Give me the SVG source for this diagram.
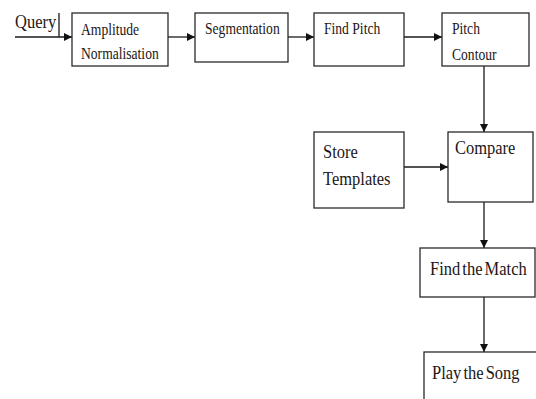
<svg xmlns="http://www.w3.org/2000/svg" width="536" height="399" viewBox="0 0 536 399">
<style>
.box{fill:#fff;stroke:#2a2a2a;stroke-width:1.3}
.ln{fill:none;stroke:#1a1a1a;stroke-width:1.3}
text{font-family:"Liberation Serif","Times New Roman",serif;fill:#221616}
.s{font-size:13.6px}
.m{font-size:16.5px;word-spacing:-2px}
</style>
<defs>
<marker id="ah" viewBox="0 0 8 8" refX="8" refY="4" markerWidth="8" markerHeight="8" markerUnits="userSpaceOnUse" orient="auto">
<path d="M0,0 L8,4 L0,8 Z" fill="#111"/>
</marker>
</defs>
<rect width="536" height="399" fill="#fff"/>
<g id="connectors">
<path class="ln" d="M15,37 H72" marker-end="url(#ah)"/>
<path class="ln" d="M59,13 V37"/>
<path class="ln" d="M168,37 H195" marker-end="url(#ah)"/>
<path class="ln" d="M288,37 H314" marker-end="url(#ah)"/>
<path class="ln" d="M404,37 H442" marker-end="url(#ah)"/>
<path class="ln" d="M484,66 V132" marker-end="url(#ah)"/>
<path class="ln" d="M404,167 H448" marker-end="url(#ah)"/>
<path class="ln" d="M484,202 V248" marker-end="url(#ah)"/>
<path class="ln" d="M484,297 V352" marker-end="url(#ah)"/>
</g>
<g id="query">
<text class="m" transform="translate(15,28) scale(1,1.18)">Query</text>
</g>
<g id="amplitude">
<rect class="box" x="72" y="13" width="96" height="53"/>
<text class="s" transform="translate(81,35) scale(1,1.18)">Amplitude</text>
<text class="s" transform="translate(81,59) scale(1,1.18)">Normalisation</text>
</g>
<g id="segmentation">
<rect class="box" x="195" y="13" width="93" height="49"/>
<text class="s" transform="translate(205,33.5) scale(1,1.18)">Segmentation</text>
</g>
<g id="findpitch">
<rect class="box" x="314" y="13" width="90" height="53"/>
<text class="s" transform="translate(324,34) scale(1,1.18)">Find Pitch</text>
</g>
<g id="pitchcontour">
<rect class="box" x="442" y="13" width="87" height="53"/>
<text class="s" transform="translate(452,34) scale(1,1.18)">Pitch</text>
<text class="s" transform="translate(452,60) scale(1,1.18)">Contour</text>
</g>
<g id="store">
<rect class="box" x="314" y="132" width="90" height="76"/>
<text class="m" transform="translate(323,158) scale(1,1.18)">Store</text>
<text class="m" transform="translate(323,185) scale(1,1.18)">Templates</text>
</g>
<g id="compare">
<rect class="box" x="448" y="132" width="85" height="70"/>
<text class="m" transform="translate(455,154) scale(1,1.18)">Compare</text>
</g>
<g id="findmatch">
<rect class="box" x="420" y="248" width="115" height="49"/>
<text class="m" transform="translate(430,275) scale(1,1.18)">Find the Match</text>
</g>
<g id="playsong">
<rect class="box" x="424" y="352" width="130" height="60"/>
<text class="m" transform="translate(432,379) scale(1,1.18)">Play the Song</text>
</g>
</svg>
